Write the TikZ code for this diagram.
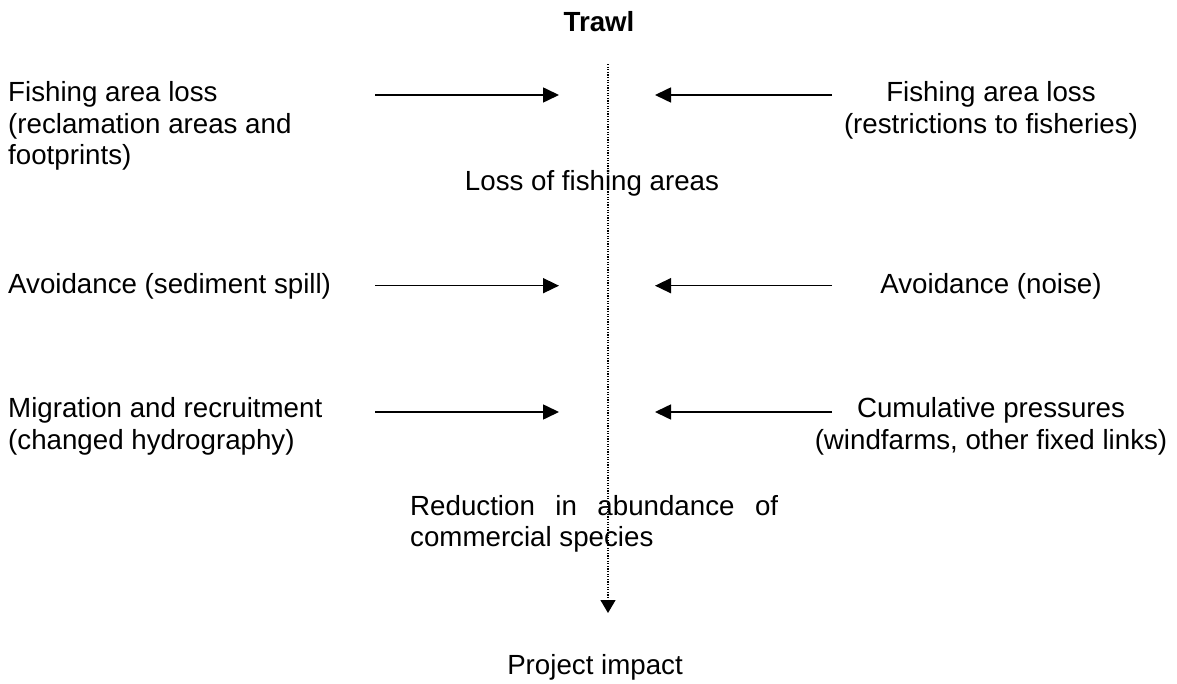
\documentclass[tikz,border=0pt]{standalone}
\usepackage{fontspec}
\setmainfont{Liberation Sans}
\usetikzlibrary{arrows.meta}

\begin{document}
\begin{tikzpicture}[x=1pt,y=-1pt]
        \tikzset{TextStyle/.style={inner sep=0pt, font=\fontsize{27.7}{31.4}\selectfont},
        LeftText/.style={TextStyle, anchor=north west, align=left},
        RightText/.style={TextStyle, anchor=north, align=center},
        Flow/.style={line width=1.6pt, -{Triangle[length=16pt,width=15pt]}},
        Axis/.style={line width=1.3pt, dash pattern=on 1.3pt off 1.3pt,
        -{Triangle[length=13pt,width=15pt]}}}
        \useasboundingbox[fill=white] (0,0) rectangle (1177,684);
        \node[TextStyle, font=\fontsize{27.7}{31.4}\selectfont\bfseries] (Trawl) at (599,22) {Trawl};
        \node[LeftText] (FishL) at (8,81.5) {Fishing area loss\\(reclamation areas and\\footprints)};
        \node[RightText] (FishR) at (991,81.5) {Fishing area loss\\(restrictions to fisheries)};
        \node[TextStyle] (Loss) at (592,183) {Loss of fishing areas};
        \node[LeftText] (AvoidL) at (8,273.5) {Avoidance (sediment spill)};
        \node[RightText] (AvoidR) at (991,273.5) {Avoidance (noise)};
        \node[LeftText] (MigL) at (8,397.5) {Migration and recruitment\\(changed hydrography)};
        \node[RightText] (CumR) at (991,397.5) {Cumulative pressures\\(windfarms, other fixed links)};
        \node[TextStyle, anchor=north west, text width=368pt, align=justify] (Reduct) at (410,495)
        {Reduction\hfill in\hfill abundance\hfill of\\commercial species};
        \node[TextStyle] (Impact) at (595,667) {Project impact};
        \coordinate (FishLFrom) at (375,95);
        \coordinate (FishLTo) at (559,95);
        \coordinate (FishRFrom) at (832,95);
        \coordinate (FishRTo) at (655,95);
        \coordinate (AvoidLFrom) at (375,285.7);
        \coordinate (AvoidLTo) at (559,285.7);
        \coordinate (AvoidRFrom) at (832,285.7);
        \coordinate (AvoidRTo) at (655,285.7);
        \coordinate (MigLFrom) at (375,412);
        \coordinate (MigLTo) at (559,412);
        \coordinate (CumRFrom) at (832,412);
        \coordinate (CumRTo) at (655,412);
        \coordinate (AxisTop) at (608,64);
        \coordinate (AxisEnd) at (608,613);
        \draw[Flow] (FishLFrom) -- (FishLTo);
        \draw[Flow] (FishRFrom) -- (FishRTo);
        \draw[Flow] (AvoidLFrom) -- (AvoidLTo);
        \draw[Flow] (AvoidRFrom) -- (AvoidRTo);
        \draw[Flow] (MigLFrom) -- (MigLTo);
        \draw[Flow] (CumRFrom) -- (CumRTo);
        \draw[Axis] (AxisTop) -- (AxisEnd);
\end{tikzpicture}
\end{document}
